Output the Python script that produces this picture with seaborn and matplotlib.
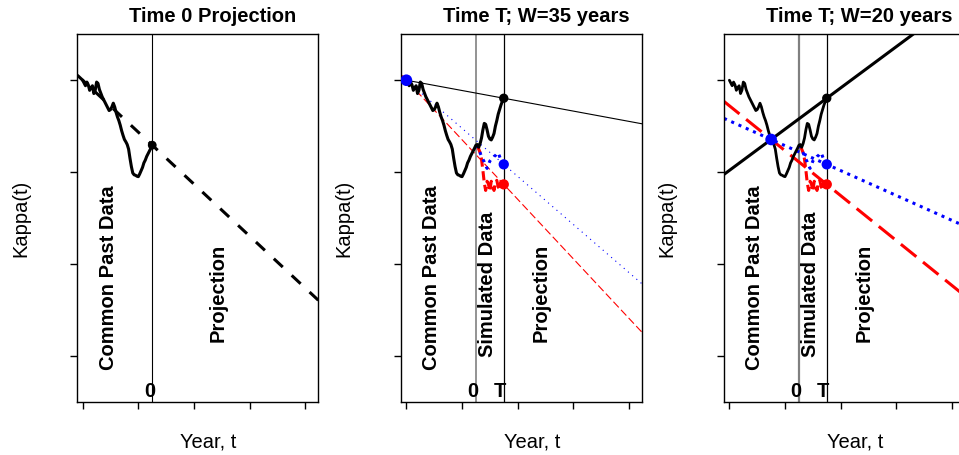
import numpy as np
import pandas as pd
import matplotlib
matplotlib.use("Agg")
import matplotlib.pyplot as plt
import seaborn as sns

sns.set_style("ticks")
plt.rcParams['font.family'] = ['Liberation Sans', 'DejaVu Sans']
plt.rcParams['text.color'] = 'black'
plt.rcParams['axes.labelcolor'] = 'black'
plt.rcParams['xtick.color'] = 'black'
plt.rcParams['ytick.color'] = 'black'

# ---------------- data ----------------
# common past data (years 0 .. 25)
past_years = [0, 0.5, 1, 1.5, 2, 2.5, 3, 3.5, 4, 4.5, 5, 5.5, 6, 6.5, 7, 7.5, 8, 8.5, 9, 9.5,
              10, 10.5, 11, 11.5, 12, 12.5, 13, 13.5, 14, 14.5, 15, 15.5, 16, 16.5, 17, 17.5,
              18, 18.5, 19, 19.5, 20, 20.5, 21, 21.5, 22, 22.5, 23, 23.5, 24, 24.5, 25]
past_kappa = [0.0, -0.3, -0.6, -0.2, -0.5, -1.1, -0.8, -0.6, -1.45, -1.1, -0.2, -0.35, -1.0, -1.4,
              -1.8, -2.1, -2.4, -2.7, -3.0, -3.3, -3.2, -2.9, -2.5, -2.9, -3.5, -4.0, -4.4, -4.9,
              -5.5, -6.0, -6.45, -6.7, -7.0, -7.5, -8.5, -9.4, -10.1, -10.3, -10.35, -10.45, -10.5,
              -10.2, -9.85, -9.5, -9.0, -8.7, -8.3, -8.0, -7.7, -7.4, -7.07]
# simulated data (years 25 .. 35)
sim_years = [25, 25.5, 26, 26.5, 27, 27.5, 28, 28.5, 29, 29.5, 30, 30.5, 31, 31.5, 32, 32.5,
             33, 33.5, 34, 34.5, 35]
sim_black = [-7.07, -7.0, -7.3, -6.9, -6.3, -5.4, -4.7, -4.8, -5.4, -6.1, -6.4, -6.5, -6.2,
             -5.8, -5.0, -4.4, -3.7, -3.2, -2.7, -2.3, -1.96]
sim_red = [-7.07, -7.2, -7.5, -7.9, -8.6, -9.8, -11.2, -12.0, -11.0, -11.3, -12.1, -11.0,
           -11.5, -12.0, -11.2, -10.9, -11.6, -11.9, -11.1, -11.4, -11.34]
sim_blue = [-7.07, -7.3, -7.6, -7.9, -8.3, -8.6, -8.9, -9.3, -9.6, -9.2, -8.8, -8.6, -8.5,
            -8.3, -8.2, -8.0, -7.9, -8.3, -8.7, -9.0, -9.16]

titles = ["Time 0 Projection", "Time T; W=35 years", "Time T; W=20 years"]
x_ticks = [0, 20, 40, 60, 80]
y_ticks = [0, -10, -20, -30]
XLIM = (-1.94, 84.7)
YLIM = (-35, 5)
T0 = 25
T = 35
windows = [None, 35, 20]

# ---------------- figure ----------------
W_PX, H_PX = 959, 455
fig = plt.figure(figsize=(W_PX / 100, H_PX / 100), dpi=100)
ax_w = 241 / W_PX
ax_h = 367.4 / H_PX
ax_b = (H_PX - 401.7) / H_PX
lefts = [77.3 / W_PX, 401.0 / W_PX, 724.0 / W_PX]

past = dict(zip(past_years, past_kappa))
full_years = past_years + sim_years[1:]
paths = {
    "black": past_kappa + sim_black[1:],
    "red": past_kappa + sim_red[1:],
    "blue": past_kappa + sim_blue[1:],
}

FS = 14.5


def fit_line(ax, x0, y0, x1, y1, **kw):
    slope = (y1 - y0) / (x1 - x0)
    xs = np.array(XLIM)
    ys = y0 + slope * (xs - x0)
    sns.lineplot(x=xs, y=ys, ax=ax, estimator=None, sort=False, **kw)
    return ax.lines[-1]


for i in range(3):
    ax = fig.add_axes([lefts[i], ax_b, ax_w, ax_h])
    ax.set_xlim(*XLIM)
    ax.set_ylim(*YLIM)
    ax.set_xticks(x_ticks)
    ax.set_yticks(y_ticks)
    ax.set_xticklabels([])
    ax.set_yticklabels([])
    ax.tick_params(direction='out', length=5, width=1, color='black')
    for s in ax.spines.values():
        s.set_color('black')
        s.set_linewidth(1.0)
    ax.set_facecolor('white')

    if i == 0:
        ax.axvline(T0, color='black', lw=0.8, zorder=1)
        sns.lineplot(x=past_years, y=past_kappa, ax=ax, color='black', lw=2.2,
                     estimator=None, sort=False, zorder=3)
        ln = fit_line(ax, past_years[0], past_kappa[0], T0, past[T0], color='black', lw=2.2, zorder=2)
        ln.set_dashes((4, 4))
        sns.scatterplot(x=[T0], y=[past[T0]], ax=ax, color='black', s=40, edgecolor='none', zorder=5)
        ax.text(9.2, -21.5, "Common Past Data", rotation=90, ha='center', va='center',
                fontsize=FS, fontweight='bold')
        ax.text(48.8, -23.1, "Projection", rotation=90, ha='center', va='center',
                fontsize=FS, fontweight='bold')
        ax.text(T0 - 1.0, -33.9, "0", ha='center', va='center', fontsize=FS, fontweight='bold')
    else:
        Wn = windows[i]
        thick = (i == 2)
        flw = 2.2 if thick else 0.8
        ax.axvline(T0, color='#808080', lw=1.6 if thick else 1.2, zorder=1)
        ax.axvline(T, color='black', lw=0.9, zorder=1)
        # simulated paths
        sns.lineplot(x=sim_years, y=sim_red, ax=ax, color='red', lw=2.2,
                     estimator=None, sort=False, zorder=3)
        ax.lines[-1].set_dashes((3, 1.5))
        sns.lineplot(x=sim_years, y=sim_blue, ax=ax, color='blue', lw=2.2,
                     estimator=None, sort=False, zorder=3)
        ax.lines[-1].set_dashes((1, 1.6))
        sns.lineplot(x=full_years, y=paths["black"], ax=ax, color='black',
                     lw=2.2 if not thick else 2.0, estimator=None, sort=False, zorder=4)
        xs0 = T - Wn
        idx0 = full_years.index(xs0)
        idxT = full_years.index(T)
        y0 = paths["black"][idx0]
        # fitted lines over window
        ln = fit_line(ax, xs0, y0, T, paths["red"][idxT], color='red', lw=flw, zorder=2)
        ln.set_dashes((7, 3) if not thick else (6.5, 2.8))
        ln = fit_line(ax, xs0, y0, T, paths["blue"][idxT], color='blue', lw=flw, zorder=2)
        ln.set_dashes((1, 4) if not thick else (1, 1.6))
        fit_line(ax, xs0, y0, T, paths["black"][idxT], color='black', lw=flw, zorder=2)
        # points
        sns.scatterplot(x=[T], y=[paths["red"][idxT]], ax=ax, color='red', s=55,
                        edgecolor='none', zorder=6)
        sns.scatterplot(x=[T], y=[paths["blue"][idxT]], ax=ax, color='blue', s=55,
                        edgecolor='none', zorder=6)
        sns.scatterplot(x=[T], y=[paths["black"][idxT]], ax=ax, color='black', s=45,
                        edgecolor='none', zorder=6)
        sns.scatterplot(x=[xs0], y=[y0], ax=ax, color='blue', s=70,
                        edgecolor='none', zorder=6)
        ax.text(9.2, -21.5, "Common Past Data", rotation=90, ha='center', va='center',
                fontsize=FS, fontweight='bold')
        ax.text(29.0, -22.2, "Simulated Data", rotation=90, ha='center', va='center',
                fontsize=FS, fontweight='bold')
        ax.text(48.6, -23.1, "Projection", rotation=90, ha='center', va='center',
                fontsize=FS, fontweight='bold')
        ax.text(T0 - 1.0, -33.9, "0", ha='center', va='center', fontsize=FS, fontweight='bold')
        ax.text(T - 1.2, -33.9, "T", ha='center', va='center', fontsize=FS, fontweight='bold')

    ax.text(0.561, 1.048, titles[i], transform=ax.transAxes, ha='center', va='center',
            fontsize=FS, fontweight='bold', color='black')
    ax.text(0.5436, -0.109, "Year, t", transform=ax.transAxes, ha='center', va='center',
            fontsize=FS, color='black')
    ax.text(-0.235, 0.5, "Kappa(t)", transform=ax.transAxes, rotation=90, ha='center',
            va='center', fontsize=FS, color='black')
    ax.set_xlabel("")
    ax.set_ylabel("")
    if ax.get_legend():
        ax.get_legend().remove()

fig.savefig("out.png", dpi=100, facecolor='white')
